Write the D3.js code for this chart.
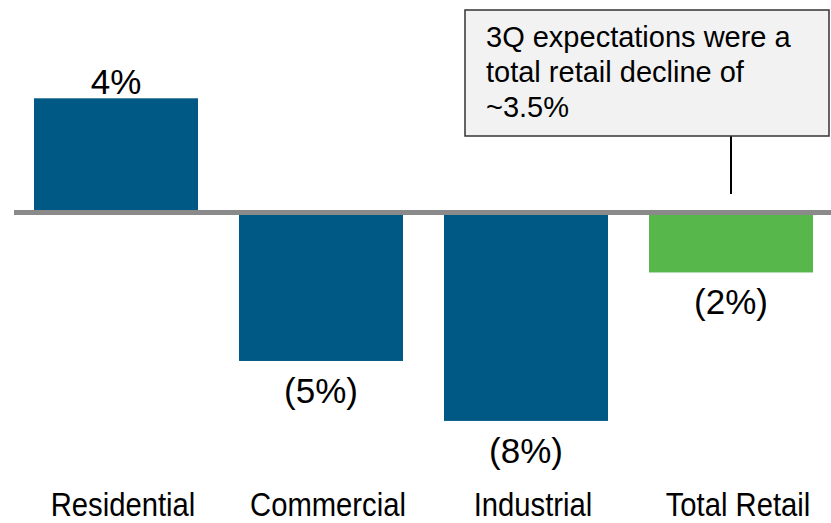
<!DOCTYPE html>
<html>
<head>
<meta charset="utf-8">
<script src="https://cdn.jsdelivr.net/npm/d3@7"></script>
<style>
  body { margin: 0; background: #fff; }
  svg { display: block; }
</style>
</head>
<body>
<div id="chart"></div>
<script>
// data
const categories = ['Residential', 'Commercial', 'Industrial', 'Total Retail'];
const values = [4.0, -5.2, -7.3, -2.1];
const valueLabels = ['4%', '(5%)', '(8%)', '(2%)'];
const calloutLines = ['3Q expectations were a', 'total retail decline of', '~3.5%'];

const width = 831;
const height = 523;

const svg = d3.select('#chart')
  .append('svg')
  .attr('width', width)
  .attr('height', height);

const x = d3.scaleBand()
  .domain(categories)
  .range([13.5, 833.5])
  .paddingInner(0.2)
  .paddingOuter(0.1);

const y = d3.scaleLinear()
  .domain([-10, 5])
  .range([498, 69.75]);

const data = categories.map((c, i) => ({ cat: c, value: values[i], label: valueLabels[i] }));

// bars
svg.selectAll('.bar')
  .data(data)
  .enter()
  .append('rect')
  .attr('class', 'bar')
  .attr('x', d => x(d.cat))
  .attr('width', x.bandwidth())
  .attr('y', d => y(Math.max(0, d.value)))
  .attr('height', d => Math.abs(y(d.value) - y(0)))
  .attr('fill', d => d.cat === 'Total Retail' ? '#57b74b' : '#005984');

// zero line
svg.append('line')
  .attr('x1', 14)
  .attr('x2', width)
  .attr('y1', y(0))
  .attr('y2', y(0))
  .attr('stroke', '#8a8a8a')
  .attr('stroke-width', 5);

// value labels
svg.selectAll('.val')
  .data(data)
  .enter()
  .append('text')
  .attr('class', 'val')
  .attr('x', d => x(d.cat) + x.bandwidth() / 2)
  .attr('y', d => d.value >= 0 ? y(d.value) - 4 : y(d.value) + 42)
  .attr('text-anchor', 'middle')
  .style('font-family', '"Liberation Sans", Arial, sans-serif')
  .style('font-size', '35px')
  .style('fill', '#000')
  .text(d => d.label);

// category labels (narrow face, squeezed since no Arial Narrow here)
const xAxis = d3.axisBottom(x).tickSize(0).tickPadding(0);
const gx = svg.append('g')
  .attr('transform', 'translate(7, 0)')
  .call(xAxis);
gx.select('.domain').remove();
gx.selectAll('text')
  .attr('y', 516)
  .attr('dy', 0)
  .attr('transform', 'scale(0.86, 1)')
  .style('font-family', '"Liberation Sans", Arial, sans-serif')
  .style('font-size', '34px')
  .style('fill', '#000');

// callout
const cx = x('Total Retail') + x.bandwidth() / 2;
svg.append('line')
  .attr('x1', cx)
  .attr('x2', cx)
  .attr('y1', 136)
  .attr('y2', 194)
  .attr('stroke', '#000')
  .attr('stroke-width', 2);

svg.append('rect')
  .attr('x', 465)
  .attr('y', 10)
  .attr('width', 364)
  .attr('height', 126)
  .attr('fill', '#f2f2f2')
  .attr('stroke', '#333')
  .attr('stroke-width', 1.5);

svg.append('text')
  .attr('x', 486)
  .attr('y', 47)
  .style('font-family', '"Liberation Sans", Arial, sans-serif')
  .style('font-size', '29px')
  .style('fill', '#000')
  .selectAll('tspan')
  .data(calloutLines)
  .enter()
  .append('tspan')
  .attr('x', 486)
  .attr('dy', (d, i) => i === 0 ? 0 : 35)
  .text(d => d);
</script>
</body>
</html>
